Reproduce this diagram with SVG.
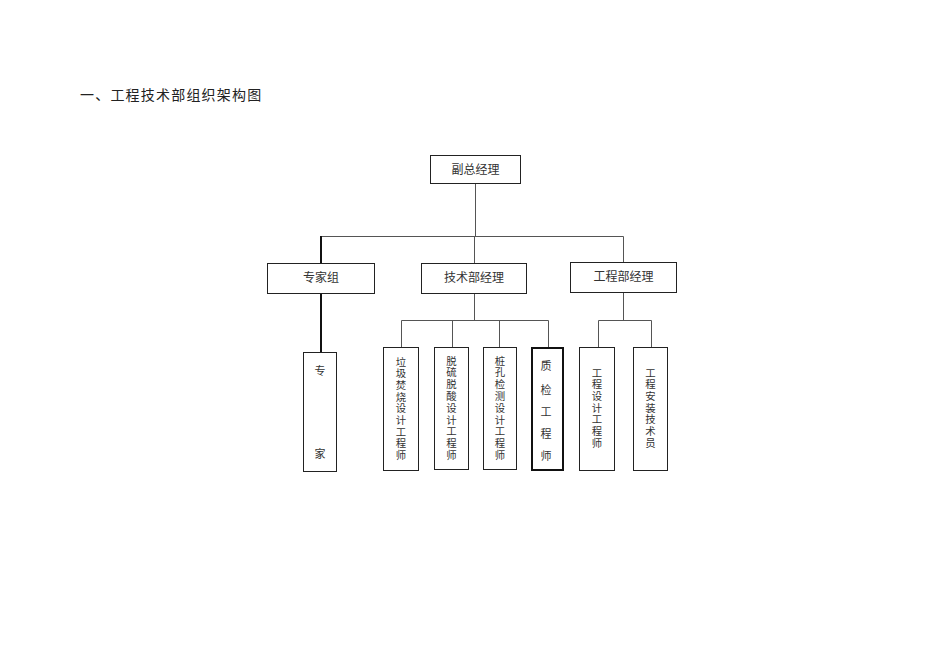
<svg xmlns="http://www.w3.org/2000/svg" width="950" height="672" viewBox="0 0 950 672">
<style>
text{font-family:"Noto Sans CJK SC","Liberation Sans",sans-serif;fill:#333;font-size:12px}
.t{text-anchor:middle}
.v{text-anchor:middle;dominant-baseline:central;font-size:11px}
.s{font-family:"Liberation Sans","Noto Sans CJK SC",sans-serif;font-size:10.4px}
rect{fill:#fff;stroke:#222;stroke-width:1}
.ln{stroke:#555;stroke-width:1;fill:none}
.dk{stroke:#111;stroke-width:2;fill:none}
</style>
<rect x="0" y="0" width="950" height="672" style="stroke:none"/>
<text x="80" y="100" style="font-size:14px;letter-spacing:1.2px;fill:#222">一、工程技术部组织架构图</text>
<g id="connectors">
<path class="ln" d="M475.5 184V236.5M321 236.5H623.5M474.5 236.5V263M623.5 236.5V262"/>
<path class="dk" d="M321 236V263M321 294V352"/>
<path class="ln" d="M474.5 294V320.5M401.5 320.5H548.5M401.5 320.5V347M452.5 320.5V347M499.5 320.5V347M548.5 320.5V348"/>
<path class="ln" d="M623.5 293V320.5M598.5 320.5H651.5M598.5 320.5V347M651.5 320.5V347"/>
</g>
<g id="n-fzjl"><rect x="430.5" y="155.5" width="90" height="28"/><text class="t" x="475.5" y="174">副总经理</text></g>
<g id="n-zjz"><rect x="267.5" y="263.5" width="107" height="30"/><text class="t" x="321" y="282">专家组</text></g>
<g id="n-jsbjl"><rect x="421.5" y="263.5" width="105" height="30"/><text class="t" x="474" y="282">技术部经理</text></g>
<g id="n-gcbjl"><rect x="570.5" y="262.5" width="106" height="30"/><text class="t" x="623.5" y="281">工程部经理</text></g>
<g id="n-zj"><rect x="303.5" y="352.5" width="33" height="119"/><text class="v" x="320" y="370">专</text><text class="v" x="320" y="453">家</text></g>
<g id="n-ljfs"><rect x="383.5" y="347.5" width="35" height="123"/>
<text class="v s" x="401" y="362">垃</text><text class="v s" x="401" y="373.7">圾</text><text class="v s" x="401" y="385.4">焚</text><text class="v s" x="401" y="397.1">烧</text><text class="v s" x="401" y="408.8">设</text><text class="v s" x="401" y="420.5">计</text><text class="v s" x="401" y="432.2">工</text><text class="v s" x="401" y="443.9">程</text><text class="v s" x="401" y="455.6">师</text></g>
<g id="n-tltl"><rect x="434.5" y="347.5" width="34" height="122"/>
<text class="v s" x="451.5" y="361">脱</text><text class="v s" x="451.5" y="372.8">硫</text><text class="v s" x="451.5" y="384.6">脱</text><text class="v s" x="451.5" y="396.4">酸</text><text class="v s" x="451.5" y="408.2">设</text><text class="v s" x="451.5" y="420">计</text><text class="v s" x="451.5" y="431.8">工</text><text class="v s" x="451.5" y="443.6">程</text><text class="v s" x="451.5" y="455.4">师</text></g>
<g id="n-zkjc"><rect x="483.5" y="347.5" width="33" height="122"/>
<text class="v s" x="500" y="361">桩</text><text class="v s" x="500" y="372.8">孔</text><text class="v s" x="500" y="384.6">检</text><text class="v s" x="500" y="396.4">测</text><text class="v s" x="500" y="408.2">设</text><text class="v s" x="500" y="420">计</text><text class="v s" x="500" y="431.8">工</text><text class="v s" x="500" y="443.6">程</text><text class="v s" x="500" y="455.4">师</text></g>
<g id="n-zjgcs"><rect x="532" y="348" width="31" height="122" style="stroke:#111;stroke-width:2"/>
<text class="v" x="546" y="365">质</text><text class="v" x="546" y="389">检</text><text class="v" x="546" y="411">工</text><text class="v" x="546" y="433">程</text><text class="v" x="546" y="455">师</text></g>
<g id="n-gcsj"><rect x="579.5" y="347.5" width="35" height="123"/>
<text class="v s" x="597" y="373">工</text><text class="v s" x="597" y="384.7">程</text><text class="v s" x="597" y="396.4">设</text><text class="v s" x="597" y="408.1">计</text><text class="v s" x="597" y="419.8">工</text><text class="v s" x="597" y="431.5">程</text><text class="v s" x="597" y="443.2">师</text></g>
<g id="n-gcaz"><rect x="633.5" y="347.5" width="34" height="123"/>
<text class="v s" x="650.5" y="373">工</text><text class="v s" x="650.5" y="384.7">程</text><text class="v s" x="650.5" y="396.4">安</text><text class="v s" x="650.5" y="408.1">装</text><text class="v s" x="650.5" y="419.8">技</text><text class="v s" x="650.5" y="431.5">术</text><text class="v s" x="650.5" y="443.2">员</text></g>
</svg>
